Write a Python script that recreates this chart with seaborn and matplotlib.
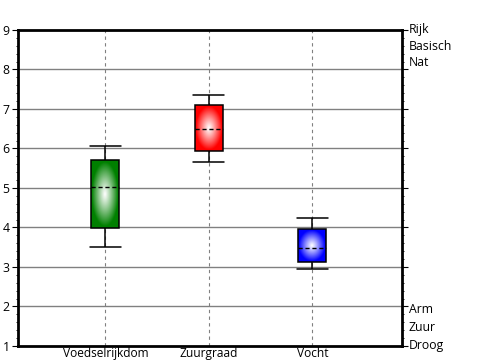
import numpy as np
import pandas as pd
import matplotlib
matplotlib.use("Agg")
import matplotlib.pyplot as plt
import matplotlib.transforms as mtransforms
from matplotlib.ticker import MultipleLocator
import seaborn as sns

categories = ["Voedselrijkdom", "Zuurgraad", "Vocht"]
# five-number summaries: min, q1, median, q3, max
voedselrijkdom = [3.50, 3.98, 5.02, 5.70, 6.06]
zuurgraad = [5.66, 5.94, 6.50, 7.09, 7.35]
vocht = [2.94, 3.13, 3.49, 3.95, 4.23]
colors = ["#008000", "#ff0000", "#0000ff"]
top_labels = ["Rijk", "Basisch", "Nat"]
bottom_labels = ["Arm", "Zuur", "Droog"]

sns.set_style("white")
plt.rcParams["font.family"] = ["Open Sans", "DejaVu Sans"]
plt.rcParams["text.color"] = "black"
plt.rcParams["xtick.color"] = "black"
plt.rcParams["ytick.color"] = "black"

df = pd.DataFrame({
    "cat": np.repeat(categories, 5),
    "val": voedselrijkdom + zuurgraad + vocht,
})

fig = plt.figure(figsize=(5, 3.6), dpi=100)
ax = fig.add_axes([0.036, 0.0389, 0.768, 0.8778])

sns.boxplot(data=df, x="cat", y="val", order=categories, hue="cat",
            palette=colors, legend=False, whis=(0, 100), width=0.27,
            linecolor="black", linewidth=1.1, ax=ax,
            medianprops=dict(linestyle=(0, (3, 2)), color="black", linewidth=1.0),
            capwidths=0.3)

# radial gradient fill inside each box
for patch, col in zip(list(ax.patches), colors):
    rgb = np.array(matplotlib.colors.to_rgb(col))
    bb = patch.get_extents().transformed(ax.transData.inverted())
    n = 200
    yy, xx = np.mgrid[-1:1:n * 1j, -1:1:n * 1j]
    r = np.sqrt(xx ** 2 + yy ** 2)
    t = np.clip(r / 0.95, 0, 1) ** 1.1
    img = (1 - t)[..., None] * np.ones(3) + t[..., None] * rgb
    im = ax.imshow(img, extent=[bb.x0, bb.x1, bb.y0, bb.y1], aspect="auto",
                   zorder=patch.get_zorder() + 0.1, interpolation="bilinear")
    im.set_clip_path(patch)
    patch.set_facecolor("none")
    patch.set_zorder(patch.get_zorder() + 0.2)
    patch.set_edgecolor("black")
for line in ax.lines:
    line.set_zorder(3)

ax.set_xlim(-0.845, 2.865)
ax.set_ylim(1, 9)
ax.yaxis.set_major_locator(MultipleLocator(1))
ax.yaxis.set_minor_locator(MultipleLocator(0.2))

for y in range(2, 9):
    ax.axhline(y, color="#808080", linewidth=1.0, zorder=0)
for x in range(len(categories)):
    ax.axvline(x, color="#808080", linewidth=0.8, linestyle=(0, (3, 3)), zorder=0)

for s in ax.spines.values():
    s.set_visible(True)
    s.set_color("black")
    s.set_linewidth(2)

ax.tick_params(axis="y", which="major", left=True, right=True, length=4, width=0.8,
               labelsize=8.8, pad=2, direction="out")
ax.tick_params(axis="y", which="minor", left=True, right=True, length=1.5, width=0.6,
               direction="out")
ax.tick_params(axis="x", bottom=False, labelsize=8.6, pad=-2.5)
ax.set_xlabel("")
ax.set_ylabel("")

trans = mtransforms.blended_transform_factory(ax.transAxes, ax.transData)
px = 39.5
for i, lab in enumerate(top_labels):
    ax.text(1.017, 9 - i * 16.5 / px, lab, transform=trans, ha="left", va="center",
            fontsize=8.8)
for i, lab in enumerate(bottom_labels):
    ax.text(1.017, 1 + (2 - i) * 18 / px, lab, transform=trans, ha="left", va="center",
            fontsize=8.8)

fig.savefig("out.png", dpi=100)
